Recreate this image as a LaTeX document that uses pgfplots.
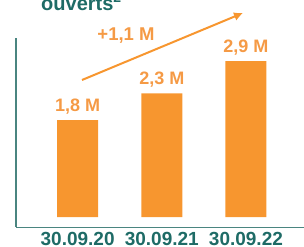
\documentclass[border=0pt]{standalone}
\usepackage{pgfplots}
\pgfplotsset{compat=1.18}
\usetikzlibrary{arrows.meta}
\usepackage{fontspec}
\setmainfont{Liberation Sans}
\definecolor{barorange}{HTML}{F7962F}
\definecolor{lblorange}{HTML}{F59A45}
\definecolor{tealdark}{HTML}{1E6B66}
\definecolor{axisteal}{HTML}{4A8580}
\begin{document}
\begin{tikzpicture}[x=1pt,y=1pt]
\useasboundingbox (0,0) rectangle (304,246);
\clip (0,0) rectangle (304,246);
\begin{axis}[
  at={(16pt,19pt)}, anchor=south west,
  scale only axis, width=288pt, height=189pt,
  xmin=-0.732, xmax=2.69,
  ymin=-0.186, ymax=3.33,
  axis x line*=bottom, axis y line*=left,
  axis line style={axisteal, line width=1pt, -},
  ytick=\empty,
  xtick=data,
  xticklabels={30.09.20,30.09.21,30.09.22},
  major tick length=0pt,
  xticklabel style={font=\bfseries\fontsize{19}{19}\selectfont, text=tealdark, anchor=base, yshift=-18pt, inner sep=0pt},
  ybar, bar width=41pt, bar shift=0pt,
  point meta=explicit symbolic,
  nodes near coords,
  nodes near coords style={font=\bfseries\fontsize{18}{18}\selectfont, text=lblorange, anchor=center, yshift=13.5pt, inner sep=0pt},
  clip=false,
]
\addplot[fill=barorange, draw=none] coordinates {(0,1.8) [1,8 M] (1,2.3) [2,3 M] (2,2.9) [2,9 M]};
\end{axis}
\draw[barorange, line width=2pt, -{Latex[length=9pt,width=9pt]}] (82,166) -- (243,233);
\node[font=\bfseries\fontsize{18.5}{18.5}\selectfont, text=lblorange] at (126,210) {+1,1 M};
\node[font=\bfseries\fontsize{20}{20}\selectfont, text=tealdark, anchor=base west, inner sep=0pt] at (41,235.5) {ouverts\textsuperscript{2}};
\end{tikzpicture}
\end{document}
